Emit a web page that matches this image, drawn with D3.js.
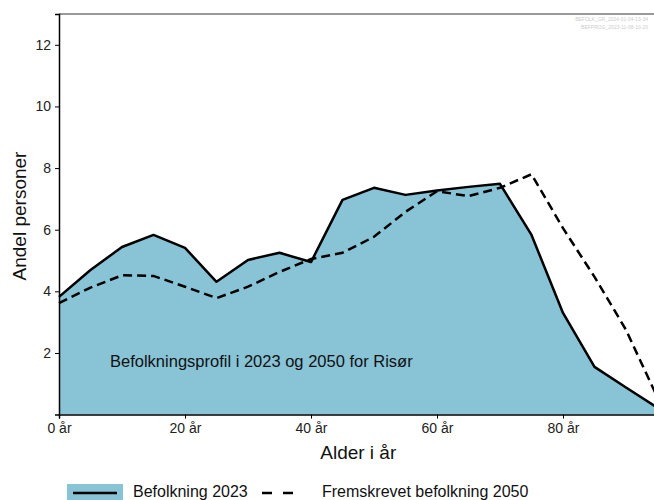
<!DOCTYPE html>
<meta charset="utf-8">
<html>
<head>
<style>
  body { margin: 0; background: #fff; }
  svg { font-family: "Liberation Sans", Arial, sans-serif; }
  .axis text { font-size: 14px; fill: #222; }
  .axis line, .axis path { stroke: #000; }
</style>
</head>
<script src="https://d3js.org/d3.v7.min.js"></script>
<body>
<div id="vis"></div>
<script>
  // age groups and shares (percent of population)
  var ages = [0,5,10,15,20,25,30,35,40,45,50,55,60,65,70,75,80,85,90,95];
  var pop2023 = [3.82,4.69,5.44,5.83,5.41,4.31,5.02,5.25,4.95,6.97,7.36,7.13,7.27,7.39,7.49,5.83,3.30,1.55,0.88,0.22];
  var pop2050 = [3.62,4.12,4.52,4.50,4.15,3.78,4.15,4.63,5.05,5.25,5.77,6.58,7.25,7.09,7.36,7.80,6.05,4.47,2.75,0.55];
  var yTicks = [2,4,6,8,10,12];
  var xTicks = [0,20,40,60,80];

  var W = 654, H = 500;
  var mLeft = 59, mTop = 14, mRight = 657.5, mBottom = 414.6;

  var svg = d3.select("#vis").append("svg")
    .attr("width", W)
    .attr("height", H);

  var x = d3.scaleLinear().domain([0, 95]).range([mLeft, mRight]);
  var y = d3.scaleLinear().domain([0, 13]).range([mBottom, mTop]);

  var rows = ages.map(function(a, i) { return {age: a, p23: pop2023[i], p50: pop2050[i]}; });

  // filled 2023 profile
  svg.append("path")
    .datum(rows)
    .attr("fill", "#88c3d6")
    .attr("d", d3.area()
      .x(function(d) { return x(d.age); })
      .y0(y(0))
      .y1(function(d) { return y(d.p23); }));

  svg.append("path")
    .datum(rows)
    .attr("fill", "none")
    .attr("stroke", "#000")
    .attr("stroke-width", 2.5)
    .attr("stroke-linejoin", "round")
    .attr("d", d3.line()
      .x(function(d) { return x(d.age); })
      .y(function(d) { return y(d.p23); }));

  svg.append("path")
    .datum(rows)
    .attr("fill", "none")
    .attr("stroke", "#000")
    .attr("stroke-width", 2.5)
    .attr("stroke-dasharray", "9,5")
    .attr("d", d3.line()
      .x(function(d) { return x(d.age); })
      .y(function(d) { return y(d.p50); }));

  // top spine
  svg.append("line")
    .attr("x1", mLeft).attr("x2", W)
    .attr("y1", mTop).attr("y2", mTop)
    .attr("stroke", "#999")
    .attr("stroke-width", 1.8);

  var xAxis = svg.append("g")
    .attr("class", "axis")
    .attr("transform", "translate(0," + mBottom + ")")
    .call(d3.axisBottom(x).tickValues(xTicks).tickSize(4).tickPadding(4)
      .tickFormat(function(d) { return d + " år"; }));
  xAxis.select(".domain").attr("stroke-width", 1.5);

  var yAxis = svg.append("g")
    .attr("class", "axis")
    .attr("transform", "translate(" + mLeft + ",0)")
    .call(d3.axisLeft(y).tickValues(yTicks).tickSize(4).tickPadding(4));
  yAxis.select(".domain").attr("stroke-width", 1.5);

  svg.append("text")
    .attr("x", (mLeft + mRight) / 2)
    .attr("y", 459)
    .attr("text-anchor", "middle")
    .style("font-size", "19px")
    .style("fill", "#111")
    .text("Alder i år");

  svg.append("text")
    .attr("transform", "translate(26,216) rotate(-90)")
    .attr("text-anchor", "middle")
    .style("font-size", "19px")
    .style("fill", "#111")
    .text("Andel personer");

  svg.append("text")
    .attr("x", 110)
    .attr("y", 367)
    .style("font-size", "16.5px")
    .style("fill", "#111")
    .text("Befolkningsprofil i 2023 og 2050 for Risør");

  // stamps in top right corner
  var stamps = ["BEFOLK_GR_2024-01-04-13-34", "BEFPROG_2023-11-08-10-20"];
  svg.selectAll(".stamp")
    .data(stamps)
    .enter().append("text")
    .attr("class", "stamp")
    .attr("x", 648)
    .attr("y", function(d, i) { return 21 + i * 8; })
    .attr("text-anchor", "end")
    .style("font-size", "5px")
    .style("fill", "#ccc")
    .text(function(d) { return d; });

  // legend
  var lg = svg.append("g");
  lg.append("rect")
    .attr("x", 67).attr("y", 484)
    .attr("width", 56).attr("height", 16)
    .attr("fill", "#88c3d6");
  lg.append("line")
    .attr("x1", 73).attr("x2", 117)
    .attr("y1", 493).attr("y2", 493)
    .attr("stroke", "#000").attr("stroke-width", 2.5);
  lg.append("text")
    .attr("x", 133).attr("y", 497)
    .style("font-size", "16px").style("fill", "#111")
    .text("Befolkning 2023");
  lg.append("line")
    .attr("x1", 262).attr("x2", 302)
    .attr("y1", 493).attr("y2", 493)
    .attr("stroke", "#000").attr("stroke-width", 2.5)
    .attr("stroke-dasharray", "10,11");
  lg.append("text")
    .attr("x", 322).attr("y", 497)
    .style("font-size", "16px").style("fill", "#111")
    .text("Fremskrevet befolkning 2050");
</script>
</body>
</html>
